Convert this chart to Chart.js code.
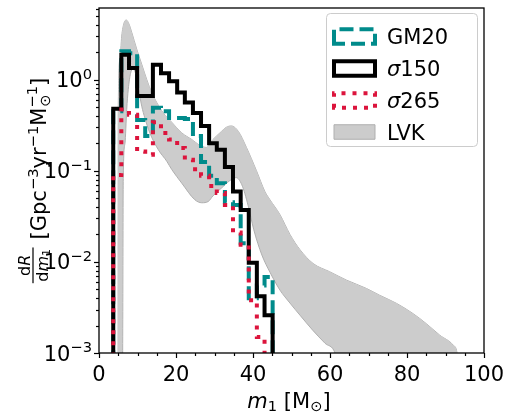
<!DOCTYPE html>
<html>
<head>
<meta charset="utf-8">
<script src="https://cdn.jsdelivr.net/npm/chart.js@4.4.1/dist/chart.umd.min.js"></script>
<style>
  html, body { margin: 0; padding: 0; background: #fff; }
  canvas { display: block; }
</style>
</head>
<body>
<canvas id="chart" width="505" height="418"></canvas>
<script>
// histogram bins in m1 [Msun]
const binEdges = [3.7, 5.8, 7.8, 9.9, 12.0, 14.0, 16.1, 18.2, 20.3, 22.3, 24.4,
  26.5, 28.6, 30.6, 32.7, 34.8, 36.8, 38.9, 41.0, 43.0, 45.1];

// dR/dm1 per bin
const gm20 = [0.45, 2.05, 1.95, 0.36, 0.24, 0.49, 0.45, 0.38, 0.38, 0.37, 0.24,
  0.125, 0.088, 0.073, 0.045, 0.042, 0.016, 0.004, 0.0055, 0.0068];
const sigma150 = [0.48, 1.87, 1.34, 0.66, 0.66, 1.45, 1.17, 0.96, 0.72, 0.56, 0.43,
  0.31, 0.2, 0.17, 0.11, 0.059, 0.037, 0.0098, 0.0042, 0.0026];
const sigma265 = [0.09, 0.47, 0.41, 0.163, 0.15, 0.34, 0.26, 0.22, 0.178, 0.132, 0.104,
  0.088, 0.068, 0.057, 0.042, 0.021, 0.0154, 0.0038, 0.0015, 0];

// LVK 90% band, upper and lower edges (values under 0.001 sit below the axis)
const lvkUpperM = [4.9, 4.95, 5.0, 5.45, 5.9, 6.5, 7.1, 7.8, 8.5, 9.8, 11.1, 12.4, 13.7, 15.0,
  16.7, 18.9, 21.5, 24.1, 26.2, 27.9, 29.6, 31.4, 33.1, 34.4, 36.2, 38.3, 40.9, 43.1,
  44.4, 47.0, 49.6, 52.2, 55.6, 59.9, 64.3, 69.5, 72.9, 77.3, 81.6, 85.0, 88.5, 92.0,
  93.0, 93.6];
const lvkUpper = [0.0005, 0.0005, 0.47, 1.67, 3.0, 4.17, 4.5, 4.06, 3.3, 2.16, 1.47, 1.0, 0.72,
  0.56, 0.43, 0.34, 0.26, 0.22, 0.19, 0.18, 0.22, 0.26, 0.30, 0.31, 0.27, 0.18, 0.10,
  0.059, 0.048, 0.033, 0.020, 0.0136, 0.0096, 0.0078, 0.0063, 0.0051, 0.0043, 0.0035,
  0.0027, 0.0021, 0.00157, 0.00122, 0.001, 0.0005];
const lvkLowerM = [4.9, 6.1, 6.3, 6.75, 7.2, 7.6, 8.2, 8.8, 9.5, 10.2, 11.1, 11.9, 13.2, 15.4,
  17.6, 18.9, 21.5, 24.9, 26.7, 28.4, 29.6, 31.9, 34.0, 35.6, 37.1, 38.7, 40.2, 42.3,
  44.4, 47.0, 49.6, 52.2, 55.5, 58.7, 61.3, 63.5, 93.6];
const lvkLower = [0.0005, 0.0005, 0.086, 0.20, 0.47, 0.78, 1.17, 1.30, 1.17, 0.82, 0.51, 0.38,
  0.26, 0.17, 0.127, 0.103, 0.073, 0.048, 0.0445, 0.046, 0.053, 0.065, 0.078, 0.084,
  0.070, 0.042, 0.0225, 0.0119, 0.0077, 0.0049, 0.00353, 0.0026, 0.00178, 0.00128,
  0.001, 0.0004, 0.0004];

// axis ticks
const xTicks = [0, 20, 40, 60, 80, 100];
const xTickLabels = ['0', '20', '40', '60', '80', '100'];
const yTicks = [1e-3, 1e-2, 1e-1, 1];
const yTickExp = ['\u22123', '\u22122', '\u22121', '0'];

const legendNames = ['GM20', '\u03c3150', '\u03c3265', 'LVK'];

const FLOOR = 1e-4;
const FONT = '"DejaVu Sans"';
const colors = {
  gm20: '#008b8b',
  s150: '#000000',
  s265: '#dc143c',
  lvkFill: '#cccccc',
  lvkEdge: '#afafaf',
};

function stepPoints(edges, values) {
  const pts = [{ x: edges[0], y: FLOOR }];
  values.forEach((v, i) => pts.push({ x: edges[i], y: v > 0 ? v : FLOOR }));
  pts.push({ x: edges[edges.length - 1], y: FLOOR });
  return pts;
}

function curve(xs, ys) {
  return xs.map((m, i) => ({ x: m, y: ys[i] }));
}

// draw a list of text runs, returns total advance
function runs(ctx, items, x, y, measureOnly) {
  let adv = 0;
  items.forEach((r) => {
    ctx.font = r.font;
    const w = ctx.measureText(r.t).width;
    if (!measureOnly) ctx.fillText(r.t, x + adv, y + (r.dy || 0));
    adv += w;
  });
  return adv;
}

const big = `21px ${FONT}`;
const bigIt = `italic 21px ${FONT}`;
const small = `14.7px ${FONT}`;
const frac = `16px ${FONT}`;
const fracIt = `italic 16px ${FONT}`;
const tiny = `11px ${FONT}`;

function drawYLabel(ctx, cy) {
  const num = [{ t: 'd', font: frac }, { t: 'R', font: fracIt }];
  const den = [{ t: 'd', font: frac }, { t: 'm', font: fracIt }, { t: '1', font: tiny, dy: 2.5 }];
  const rest1 = [
    { t: '[Gpc', font: big },
    { t: '\u22123', font: small, dy: -8.5 },
    { t: 'yr', font: big },
    { t: '\u22121', font: small, dy: -8.5 },
    { t: 'M', font: big },
  ];

  const wNum = runs(ctx, num, 0, 0, true);
  const wDen = runs(ctx, den, 0, 0, true);
  const fw = Math.max(wNum, wDen) + 3;
  const w1 = runs(ctx, rest1, 0, 0, true);
  ctx.font = small;
  const wSup = ctx.measureText('\u22121').width;
  ctx.font = big;
  const wBr = ctx.measureText(']').width;
  const gap = 8;
  const total = fw + gap + w1 + wSup + wBr;

  ctx.save();
  ctx.translate(46, cy);
  ctx.rotate(-Math.PI / 2);
  ctx.fillStyle = '#000';
  ctx.textBaseline = 'alphabetic';
  let x = -total / 2;
  // fraction dR / dm1
  runs(ctx, num, x + (fw - wNum) / 2, -16);
  runs(ctx, den, x + (fw - wDen) / 2, 1.5);
  ctx.fillRect(x, -13.6, fw, 1.2);
  x += fw + gap;
  x += runs(ctx, rest1, x, 0);
  ctx.font = small;
  ctx.fillText('\u2299', x + 1, 4);
  ctx.fillText('\u22121', x, -9.5);
  x += wSup;
  ctx.font = big;
  ctx.fillText(']', x, 0);
  ctx.restore();
}

function drawXLabel(ctx, cx, baseY) {
  const items = [
    { t: 'm', font: bigIt },
    { t: '1', font: small, dy: 3 },
    { t: ' [M', font: big },
    { t: '\u2299', font: small, dy: 3 },
    { t: ']', font: big },
  ];
  const w = runs(ctx, items, 0, 0, true);
  runs(ctx, items, cx - w / 2, baseY);
}

function drawLegend(ctx) {
  const left = 326.5, top = 13.5, w = 151, h = 133;
  ctx.save();
  ctx.beginPath();
  ctx.roundRect(left, top, w, h, 4);
  ctx.fillStyle = 'rgba(255,255,255,0.8)';
  ctx.fill();
  ctx.strokeStyle = '#cccccc';
  ctx.lineWidth = 1;
  ctx.stroke();

  const rowY = [36.5, 68.5, 100.5, 132];
  const hx = 334, hw = 41, hh = 14.5;
  const styles = [
    { c: colors.gm20, dash: [14, 6], lw: 4 },
    { c: colors.s150, dash: [], lw: 4 },
    { c: colors.s265, dash: [4, 7], lw: 4 },
    { fill: colors.lvkFill, c: colors.lvkEdge, dash: [], lw: 1 },
  ];
  styles.forEach((s, i) => {
    const y0 = rowY[i] - hh / 2;
    if (s.fill) {
      ctx.fillStyle = s.fill;
      ctx.fillRect(hx, y0, hw, hh);
    }
    ctx.setLineDash(s.dash);
    ctx.lineWidth = s.lw;
    ctx.strokeStyle = s.c;
    ctx.lineCap = 'butt';
    ctx.lineJoin = 'miter';
    ctx.beginPath();
    ctx.moveTo(hx, y0 + hh);
    ctx.lineTo(hx, y0);
    ctx.lineTo(hx + hw, y0);
    ctx.lineTo(hx + hw, y0 + hh);
    ctx.closePath();
    ctx.stroke();
  });
  ctx.setLineDash([]);

  ctx.fillStyle = '#000';
  ctx.textBaseline = 'alphabetic';
  legendNames.forEach((name, i) => {
    const by = rowY[i] + 7.6;
    if (name.startsWith('\u03c3')) {
      runs(ctx, [{ t: '\u03c3', font: bigIt }, { t: name.slice(1), font: big }], 387, by);
    } else {
      ctx.font = big;
      ctx.fillText(name, 387, by);
    }
  });
  ctx.restore();
}

const decor = {
  id: 'decor',
  afterDraw(chart) {
    const { ctx, chartArea: a, scales } = chart;
    const xs = scales.x, ys = scales.y;
    ctx.save();
    ctx.strokeStyle = '#000';
    ctx.fillStyle = '#000';

    // x ticks, minor every 5
    ctx.lineWidth = 1.2;
    for (let m = 0; m <= 100; m += 5) {
      const px = Math.round(xs.getPixelForValue(m)) + 0.5;
      const len = m % 20 === 0 ? 5 : 3;
      ctx.beginPath();
      ctx.moveTo(px, a.bottom);
      ctx.lineTo(px, a.bottom + len);
      ctx.stroke();
    }
    // y ticks, major decades and minor 2..9
    for (let e = -3; e <= 0; e++) {
      for (let k = 1; k <= 9; k++) {
        const v = k * Math.pow(10, e);
        if (v > ys.max) break;
        const py = Math.round(ys.getPixelForValue(v)) + 0.5;
        const len = k === 1 ? 5 : 3;
        ctx.beginPath();
        ctx.moveTo(a.left, py);
        ctx.lineTo(a.left - len, py);
        ctx.stroke();
      }
    }

    // frame
    ctx.lineWidth = 1.3;
    ctx.strokeRect(a.left, a.top, a.right - a.left, a.bottom - a.top);

    // x tick labels
    ctx.font = big;
    ctx.textAlign = 'center';
    ctx.textBaseline = 'alphabetic';
    xTicks.forEach((m, i) => {
      ctx.fillText(xTickLabels[i], xs.getPixelForValue(m), a.bottom + 27.5);
    });

    // y tick labels: 10 with exponent
    ctx.textAlign = 'left';
    yTicks.forEach((v, i) => {
      const py = ys.getPixelForValue(v);
      const items = [
        { t: '10', font: big },
        { t: yTickExp[i], font: small, dy: -8.5 },
      ];
      const w = runs(ctx, items, 0, 0, true);
      runs(ctx, items, a.left - 7 - w, py + 7.6);
    });

    drawXLabel(ctx, 289, 408);
    drawYLabel(ctx, (a.top + a.bottom) / 2);
    drawLegend(ctx);
    ctx.restore();
  },
};

new Chart(document.getElementById('chart'), {
  type: 'line',
  data: {
    datasets: [
      {
        label: 'σ265',
        data: stepPoints(binEdges, sigma265),
        borderColor: colors.s265,
        borderWidth: 4,
        borderDash: [4, 7],
        borderCapStyle: 'butt',
        stepped: true,
        pointRadius: 0,
        fill: false,
      },
      {
        label: 'σ150',
        data: stepPoints(binEdges, sigma150),
        borderColor: colors.s150,
        borderWidth: 4,
        borderJoinStyle: 'miter',
        stepped: true,
        pointRadius: 0,
        fill: false,
      },
      {
        label: 'GM20',
        data: stepPoints(binEdges, gm20),
        borderColor: colors.gm20,
        borderWidth: 4,
        borderDash: [14, 6],
        borderCapStyle: 'butt',
        stepped: true,
        pointRadius: 0,
        fill: false,
      },
      {
        label: 'LVK',
        data: curve(lvkLowerM, lvkLower),
        borderColor: colors.lvkEdge,
        backgroundColor: colors.lvkFill,
        borderWidth: 1,
        cubicInterpolationMode: 'monotone',
        pointRadius: 0,
        fill: '+1',
      },
      {
        label: 'LVK upper',
        data: curve(lvkUpperM, lvkUpper),
        borderColor: colors.lvkEdge,
        borderWidth: 1,
        cubicInterpolationMode: 'monotone',
        pointRadius: 0,
        fill: false,
      },
    ],
  },
  options: {
    responsive: false,
    animation: false,
    devicePixelRatio: 1,
    layout: { padding: { top: 8, right: 21, left: 0, bottom: 0 } },
    plugins: {
      legend: { display: false },
      tooltip: { enabled: false },
    },
    scales: {
      x: {
        type: 'linear',
        min: 0,
        max: 100,
        grid: { display: false },
        border: { display: false },
        ticks: { display: false },
        afterFit: (s) => { s.height = 65; },
      },
      y: {
        type: 'logarithmic',
        min: 1e-3,
        max: 6.1,
        grid: { display: false },
        border: { display: false },
        ticks: { display: false },
        afterFit: (s) => { s.width = 99; },
      },
    },
  },
  plugins: [decor],
});
</script>
</body>
</html>
